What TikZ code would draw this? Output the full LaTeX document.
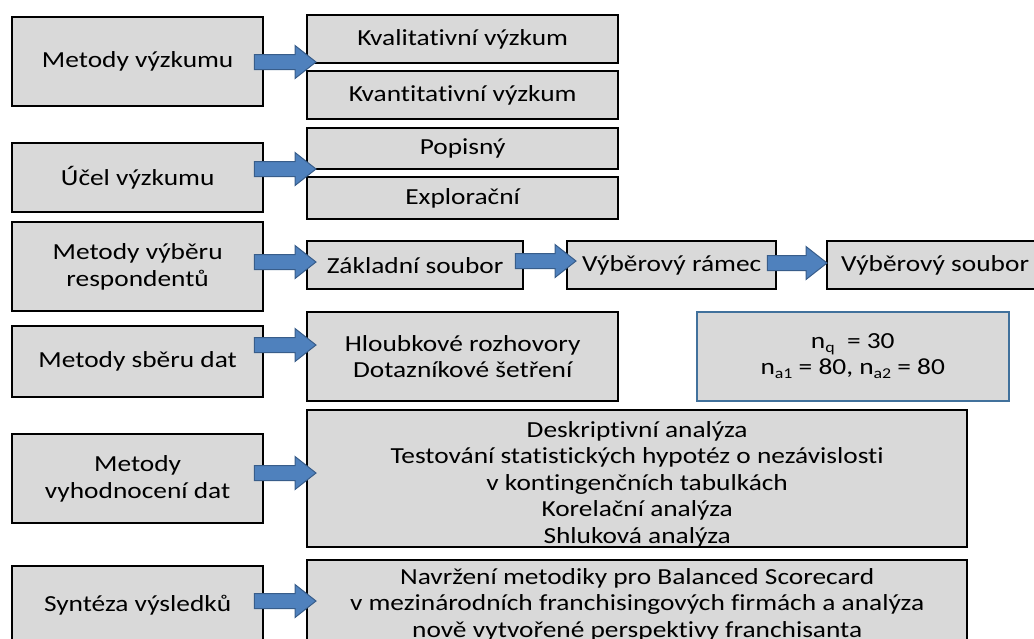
\documentclass[tikz,border=0pt]{standalone}
\usepackage{fontspec}
\setmainfont[FakeStretch=1.19,Ligatures=NoCommon]{Carlito}
\usetikzlibrary{calc}
\definecolor{boxgray}{HTML}{D9D9D9}
\definecolor{arrfill}{HTML}{4F81BD}
\definecolor{arrdraw}{HTML}{385D8A}
\definecolor{nborder}{HTML}{41719C}
\newcommand\blockarr[5]{%
  \path ([xshift=#3pt]#1.east) coordinate (bas) ([xshift=#4pt]#2.west) coordinate (bae);
  \draw[barrow] let \p1=(bas), \p2=(bae) in
    (\x1,-#5pt-7.5pt) -- (\x2-21pt,-#5pt-7.5pt) -- (\x2-21pt,-#5pt-16.5pt) -- (\x2,-#5pt)
    -- (\x2-21pt,-#5pt+16.5pt) -- (\x2-21pt,-#5pt+7.5pt) -- (\x1,-#5pt+7.5pt) -- cycle;}
\newcommand\subtxt[1]{\raisebox{-4pt}{\fontsize{15}{15}\selectfont #1}}
\begin{document}
\begin{tikzpicture}[x=1pt,y=-1pt,
  box/.style={draw=black, line width=2.3pt, fill=boxgray, align=center, inner sep=0pt,
    anchor=north west, font=\fontsize{23}{26.5}\selectfont},
  nbox/.style={box, draw=nborder, line width=1.5pt},
  barrow/.style={fill=arrfill, draw=arrdraw, line width=1pt, line join=miter}]
\useasboundingbox (0,0) rectangle (1034,638);
\clip (0,0) rectangle (1034,638);
% left column
\node[box, minimum width=251pt, minimum height=89pt] (m1) at (11,16) {Metody výzkumu};
\node[box, minimum width=251pt, minimum height=69pt] (m2) at (11,142) {Účel výzkumu};
\node[box, minimum width=251pt, minimum height=89pt] (m3) at (11,221) {Metody výběru\\respondentů};
\node[box, minimum width=251pt, minimum height=71pt] (m4) at (11,325) {Metody sběru dat};
\node[box, minimum width=251pt, minimum height=89pt] (m5) at (11,433) {Metody\\vyhodnocení dat};
\node[box, minimum width=251pt, minimum height=79pt] (m6) at (11,565) {Syntéza výsledků};
% right column
\node[box, minimum width=311pt, minimum height=48pt] (k1) at (306,14) {Kvalitativní výzkum};
\node[box, minimum width=311pt, minimum height=48pt] (k2) at (306,70) {Kvantitativní výzkum};
\node[box, minimum width=311pt, minimum height=41pt] (p1) at (306,127) {Popisný};
\node[box, minimum width=311pt, minimum height=42pt] (p2) at (306,176) {Explorační};
\node[box, minimum width=216pt, minimum height=48pt] (z1) at (306,240) {Základní soubor};
\node[box, minimum width=209pt, minimum height=48pt] (z2) at (566,240) {Výběrový rámec};
\node[box, minimum width=216pt, minimum height=48pt] (z3) at (826,240) {Výběrový soubor};
\node[box, minimum width=311pt, minimum height=89pt] (h1) at (306,311) {Hloubkové rozhovory\\Dotazníkové šetření};
\node[nbox, minimum width=312pt, minimum height=89pt] (n1) at (696,311)
  {n\subtxt{q}\ \ = 30\\n\subtxt{a1} = 80, n\subtxt{a2} = 80};
\node[box, minimum width=660pt, minimum height=134pt] (d1) at (306,409)
  {\rule{0pt}{27pt}Deskriptivní analýza\\Testování statistických hypotéz o nezávislosti\\v kontingenčních tabulkách\\Korelační analýza\\Shluková analýza};
\node[box, minimum width=660pt, minimum height=89pt] (s1) at (306,559)
  {Navržení metodiky pro Balanced Scorecard\\v mezinárodních franchisingových firmách a analýza\\nově vytvořené perspektivy franchisanta};
% block arrows
\blockarr{m1}{k1}{-10}{10}{62}
\blockarr{m2}{p1}{-10}{10}{169}
\blockarr{m3}{z1}{-10}{10}{262}
\blockarr{m4}{h1}{-10}{10}{345}
\blockarr{m5}{d1}{-10}{10}{473}
\blockarr{m6}{s1}{-10}{10}{601}
\blockarr{z1}{z2}{-9}{10}{261}
\blockarr{z2}{z3}{-10}{1}{263}
\end{tikzpicture}
\end{document}
